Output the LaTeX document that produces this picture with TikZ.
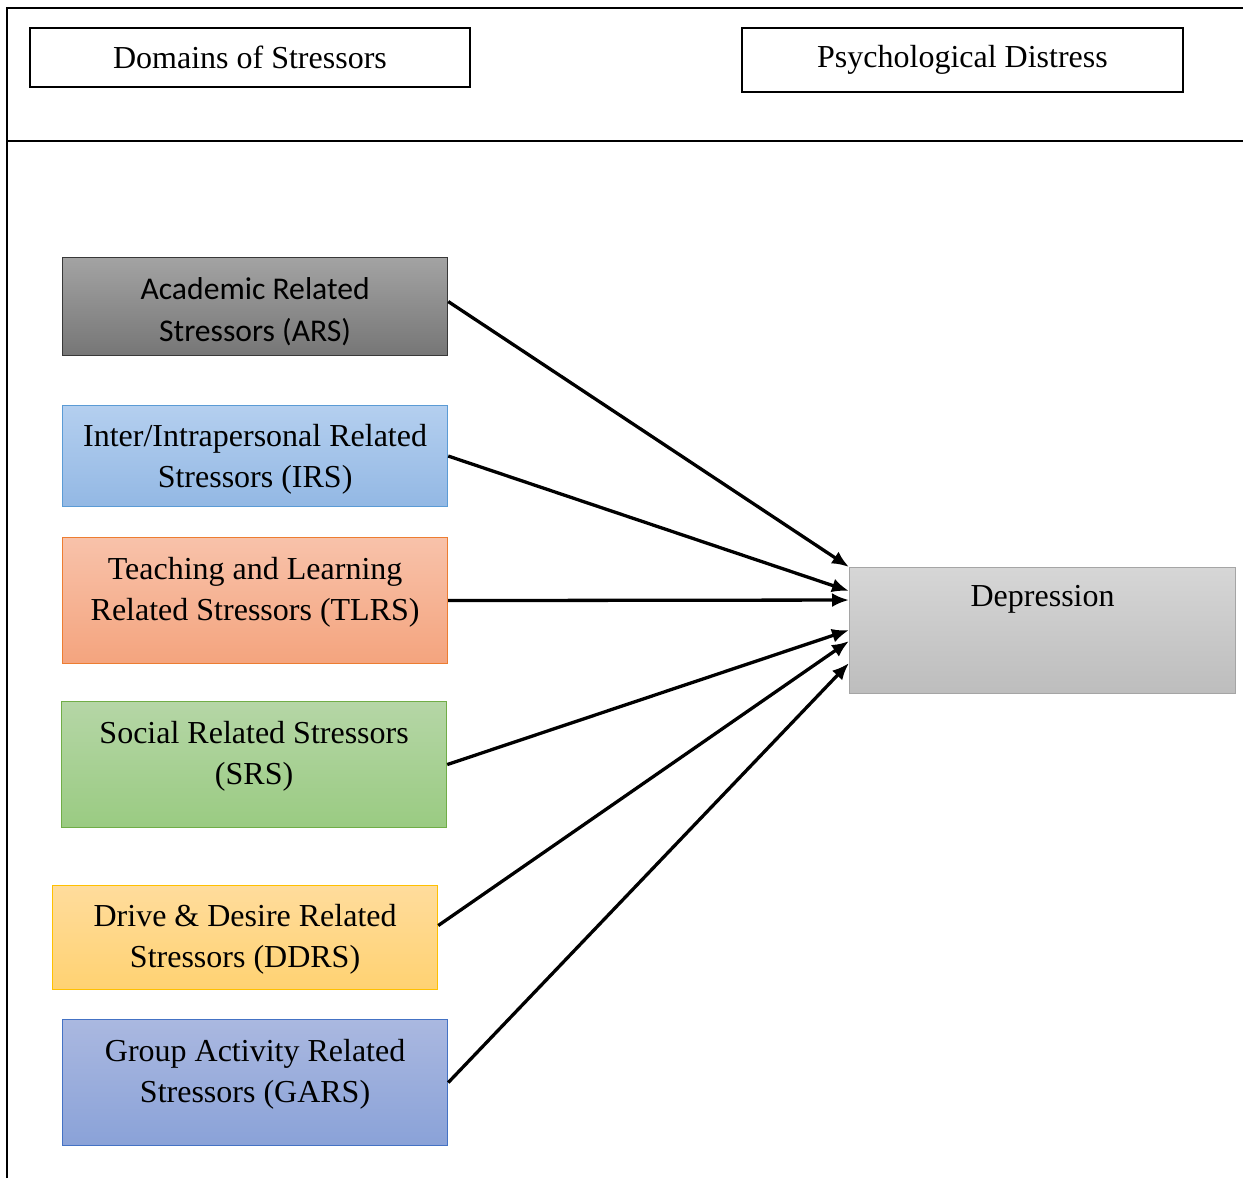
\documentclass[tikz,border=0pt]{standalone}
\usepackage{fontspec}
\setmainfont{Liberation Serif}
\newfontfamily\carlito{Carlito}
\usepackage{xcolor}
\usetikzlibrary{positioning}
\usetikzlibrary{arrows.meta}

\definecolor{arsTop}{HTML}{A3A3A3}
\definecolor{arsBot}{HTML}{767676}
\definecolor{irsTop}{HTML}{B4CFEF}
\definecolor{irsBot}{HTML}{93B8E4}
\definecolor{irsLine}{HTML}{5B9BD5}
\definecolor{tlrsTop}{HTML}{F8C2AA}
\definecolor{tlrsBot}{HTML}{F4A47E}
\definecolor{tlrsLine}{HTML}{ED7D31}
\definecolor{srsTop}{HTML}{B5D6A6}
\definecolor{srsBot}{HTML}{9ACB82}
\definecolor{srsLine}{HTML}{70AD47}
\definecolor{ddrsTop}{HTML}{FFDC9C}
\definecolor{ddrsBot}{HTML}{FFD272}
\definecolor{ddrsLine}{HTML}{FFC000}
\definecolor{garsTop}{HTML}{AAB8E0}
\definecolor{garsBot}{HTML}{8AA2D8}
\definecolor{garsLine}{HTML}{4472C4}
\definecolor{depTop}{HTML}{D6D6D6}
\definecolor{depBot}{HTML}{BDBDBD}
\definecolor{depLine}{HTML}{A5A5A5}

\begin{document}
\begin{tikzpicture}[x=0.01cm, y=-0.01cm,
  stressBox/.style={anchor=north west, rectangle, line width=0.1mm, minimum width=3.85cm, inner sep=0pt},
  boxText/.style={anchor=north, align=center, inner sep=0pt, font=\fontsize{9.1}{11.4}\selectfont},
  headBox/.style={draw=black, line width=0.17mm, anchor=north west, inner sep=0pt, font=\fontsize{9.1}{11.4}\selectfont},
  toDep/.style={-{Latex[length=0.17cm, width=0.14cm]}, line width=0.33mm}
]

\useasboundingbox (0,0) rectangle (1243,1178);

% frame
\draw[line width=0.16mm] (7,1178)--(7,8)--(1243,8);
\draw[line width=0.13mm] (7,141)--(1243,141);

% headers
\node[headBox, minimum width=4.4cm, minimum height=0.59cm] (domains) at (29,27) {Domains of Stressors};
\node[headBox, minimum width=4.41cm, minimum height=0.64cm] (distress) at (741,27) {Psychological Distress};

% stressors
\node[stressBox, draw=black!78, top color=arsTop, bottom color=arsBot, minimum height=0.98cm] (ars) at (62,257) {};
\node[boxText, font=\carlito\fontsize{9}{12}\selectfont, below=0.2cm of ars.north] (arsText)
{Academic Related\\Stressors (ARS)};

\node[stressBox, draw=irsLine, top color=irsTop, bottom color=irsBot, minimum height=1.01cm] (irs) at (62,405) {};
\node[boxText, below=0.19cm of irs.north] (irsText)
{Inter/Intrapersonal Related\\Stressors (IRS)};

\node[stressBox, draw=tlrsLine, top color=tlrsTop, bottom color=tlrsBot, minimum height=1.26cm] (tlrs) at (62,537) {};
\node[boxText, below=0.2cm of tlrs.north] (tlrsText)
{Teaching and Learning\\Related Stressors (TLRS)};

\node[stressBox, draw=srsLine, top color=srsTop, bottom color=srsBot, minimum height=1.26cm] (srs) at (61,701) {};
\node[boxText, below=0.2cm of srs.north] (srsText)
{Social Related Stressors\\(SRS)};

\node[stressBox, draw=ddrsLine, top color=ddrsTop, bottom color=ddrsBot, minimum height=1.04cm] (ddrs) at (52,885) {};
\node[boxText, below=0.19cm of ddrs.north] (ddrsText)
{Drive \& Desire Related\\Stressors (DDRS)};

\node[stressBox, draw=garsLine, top color=garsTop, bottom color=garsBot, minimum height=1.26cm] (gars) at (62,1019) {};
\node[boxText, below=0.2cm of gars.north] (garsText)
{Group Activity Related\\Stressors (GARS)};

% outcome
\node[stressBox, draw=depLine, top color=depTop, bottom color=depBot, minimum width=3.86cm, minimum height=1.26cm] (dep) at (849,567) {};
\node[boxText, below=0.18cm of dep.north] (depText) {Depression};

% arrows
\draw[toDep] ([yshift=0.05cm]ars.east) -- (dep.north west);
\draw[toDep] (irs.east) -- ([yshift=-0.24cm]dep.north west);
\draw[toDep] (tlrs.east) -- ([yshift=-0.33cm]dep.north west);
\draw[toDep] (srs.east) -- ([yshift=-0.63cm]dep.north west);
\draw[toDep] ([yshift=0.12cm]ddrs.east) -- ([yshift=-0.74cm]dep.north west);
\draw[toDep] (gars.east) -- ([yshift=-0.96cm]dep.north west);

\end{tikzpicture}
\end{document}
